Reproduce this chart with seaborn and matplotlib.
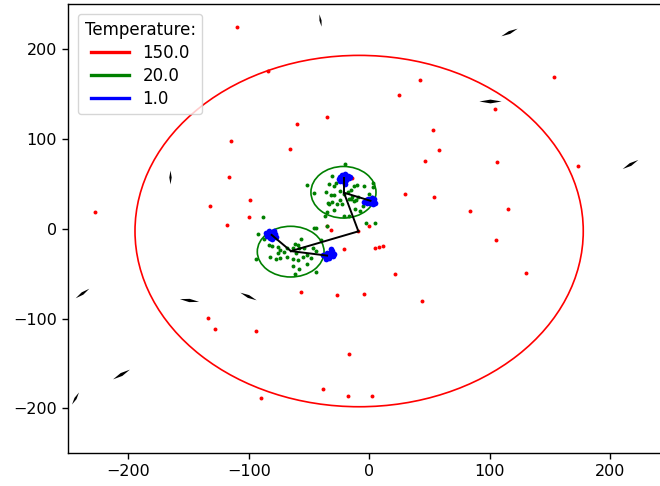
import matplotlib
matplotlib.use("Agg")
import matplotlib.pyplot as plt
from matplotlib.patches import Ellipse
from matplotlib.markers import MarkerStyle
from matplotlib.transforms import Affine2D
from matplotlib.lines import Line2D
import seaborn as sns

plt.rcParams['font.size'] = 11.5

# points at the highest temperature (red)
red_x = [-110, -84, -60, -35, 42, 25, 153, 104, 53, 58, 46, 106, 173, 30, 54,
         -115, -116, -132, -118, -228, -66, -99, -100, -35, -32, 0, -14, -21,
         5, 8, 11, 21, -9, 84, 115, 105, 130, 44, -4, 2, -57, -27, -134, -128,
         -94, -90, -17, -38, -18]
red_y = [224, 175, 117, 124, 165, 149, 169, 133, 110, 88, 75, 74, 70, 39, 35,
         98, 58, 25, 4, 18, 89, 32, 13, 3, -1, 3, 56, -23, -22, -20, -19, -51,
         -3, 20, 22, -13, -49, -80, -73, -186, -71, -74, -99, -112, -114, -188,
         -139, -179, -186]

# points at the middle temperature (green)
green_x = [-20, -52, -46, -31, -33, -28, -29, -36, -24, -21, -18, -15, -32, -29,
           -34, -33, -31, -27, -29, -24, -23, -17, -15, -13, -11, -9, -14, -10,
           -13, -4, 3, 3, 0, 2, -21, -17, -12, -8, -5, -44, -3, 5, -37, -35,
           -88, -92, -46, -35, -57, -62, -59, -76, -81, -74, -68, -71, -63, -61,
           -58, -54, -47, -44, -40, -82, -77, -74, -68, -63, -59, -55, -52, -63,
           -58, -62, -94, -44, -76, -48, -52, -87, -83]
green_y = [72, 49, 40, 59, 50, 51, 48, 41, 42, 38, 41, 43, 37, 37,
           29, 27, 30, 27, 21, 32, 27, 33, 33, 31, 32, 35, 35, 49,
           48, 48, 46, 51, 38, 35, 14, 14, 22, 20, 25, 1, 6, 6, 14, 18,
           13, -6, 1, 3, -12, -17, -18, -20, -19, -24, -22, -26, -22, -27,
           -22, -22, -22, -25, -13, -32, -34, -33, -32, -34, -35, -32, -39, -42,
           -45, -50, -34, -48, -27, -33, -29, -11, -18]

# points at the lowest temperature (blue)
blue_x = [-21, -24, -18, -22, -19, -25, -17, -20, -23, -21, -16, -24, -20,
          0, -3, 3, 1, 4, -2, 2, 5, -1, 3, -4,
          -81, -84, -78, -82, -79, -85, -80, -83, -77, -86, -81,
          -34, -37, -31, -35, -33, -30, -38, -32, -36, -29, -32, -31]
blue_y = [56, 58, 59, 53, 54, 55, 56, 61, 60, 58, 58, 53, 50,
          31, 32, 30, 28, 33, 29, 34, 29, 33, 27, 30,
          -7, -5, -6, -10, -3, -8, -9, -3, -9, -5, -12,
          -30, -31, -29, -27, -33, -31, -29, -26, -34, -28, -23, -25]

# cluster tree
node_x = [-9, -21, -65, -21, 1, -81, -35]
node_y = [-3, 40, -25, 56, 31, -7, -30]
edges = [(0, 1), (0, 2), (1, 3), (1, 4), (2, 5), (2, 6)]

# cluster extents
circle_x = [-8.4, -21.4, -65.2]
circle_y = [-2.7, 40.5, -25.6]
circle_rx = [186, 27, 27.7]
circle_ry = [195.5, 28.7, 28.2]
circle_col = ['red', 'green', 'green']

# small black direction markers
arrow_x = [-41, 116, 100, 216, -165, -238, -150, -101, -206, -244]
arrow_y = [232, 219, 142, 72, 58, -72, -79, -75, -162, -188]
arrow_ang = [100, 25, 0, 30, 90, 35, -8, -25, 30, 60]
arrow_len = [9, 13, 16, 13, 10, 12, 14, 13, 14, 10]

temps = ['150.0', '20.0', '1.0']
temp_col = ['red', 'green', 'blue']

fig = plt.figure(figsize=(6.6, 4.86), dpi=100)
ax = fig.add_axes([68 / 660, 0.0673, 602.5 / 660, 0.9245])

for i in range(len(circle_x)):
    ax.add_patch(Ellipse((circle_x[i], circle_y[i]), 2 * circle_rx[i], 2 * circle_ry[i],
                         fill=False, edgecolor=circle_col[i], lw=1.2))

sns.scatterplot(x=red_x, y=red_y, color='red', s=8, linewidth=0, ax=ax, legend=False)
sns.scatterplot(x=green_x, y=green_y, color='green', s=8, linewidth=0, ax=ax, legend=False)
sns.scatterplot(x=blue_x, y=blue_y, color='blue', s=17, linewidth=0, ax=ax, legend=False)

for a, b in edges:
    ax.plot([node_x[a], node_x[b]], [node_y[a], node_y[b]], color='black', lw=1.4, zorder=3)

shape = [(-1, 0), (0, 0.17), (1, 0), (0, -0.17)]
for i in range(len(arrow_x)):
    m = MarkerStyle(shape, transform=Affine2D().rotate_deg(arrow_ang[i]))
    ax.plot(arrow_x[i], arrow_y[i], marker=m, ms=arrow_len[i], color='black', mew=0, ls='none')

ax.set_xlim(-250, 250)
ax.set_ylim(-250, 250)
ax.set_xticks([-200, -100, 0, 100, 200])
ax.set_yticks([-200, -100, 0, 100, 200])
ax.tick_params(length=4.5, width=1.0)
for s in ax.spines.values():
    s.set_linewidth(1.0)

handles = [Line2D([0], [0], color=c, lw=2.4) for c in temp_col]
ax.legend(handles, temps, title='Temperature:', loc='upper left',
          fontsize=12, title_fontsize=12, handlelength=2.3, borderaxespad=0.6,
          labelspacing=0.3)

fig.savefig('out.png', dpi=100)
